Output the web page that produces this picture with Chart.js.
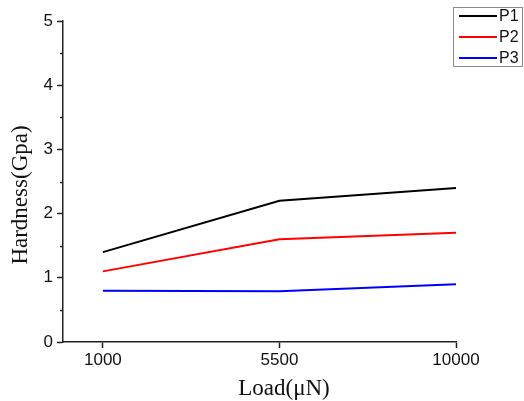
<!DOCTYPE html>
<html>
<head>
<meta charset="utf-8">
<script src="https://cdn.jsdelivr.net/npm/chart.js@4/dist/chart.umd.min.js"></script>
<style>
  html, body { margin: 0; padding: 0; background: #fff; }
  #wrap { width: 524px; height: 401px; }
</style>
</head>
<body>
<div id="wrap"><canvas id="chart" width="524" height="401"></canvas></div>
<script>
    // load values (uN) on the x axis
    var loads = ['1000', '5500', '10000'];
    var seriesNames = ['P1', 'P2', 'P3'];
    var p1 = [1.4, 2.2, 2.4];
    var p2 = [1.1, 1.6, 1.7];
    var p3 = [0.8, 0.79, 0.9];
    var yTicks = [0, 1, 2, 3, 4, 5];
    var yMinorTicks = [0.5, 1.5, 2.5, 3.5, 4.5];
    var xTitle = 'Load(\u03bcN)';
    var yTitle = 'Hardness(Gpa)';

    var axisColor = '#222';
    var serif = '"Liberation Serif", "Times New Roman", serif';
    var sans = '"Liberation Sans", Arial, sans-serif';

    function toPoints(values) {
        return values.map(function (v, i) { return {x: i, y: v}; });
    }

    // short minor ticks on the y axis
    var minorTicks = {
        id: 'minorTicks',
        afterDraw: function (chart) {
            var ctx = chart.ctx;
            var y = chart.scales.y;
            ctx.save();
            ctx.strokeStyle = axisColor;
            ctx.lineWidth = 1.5;
            yMinorTicks.forEach(function (v) {
                var py = Math.round(y.getPixelForValue(v)) + 0.5;
                ctx.beginPath();
                ctx.moveTo(y.right - 3, py);
                ctx.lineTo(y.right, py);
                ctx.stroke();
            });
            ctx.restore();
        }
    };

    // axis titles, placed like in the original figure
    var axisTitles = {
        id: 'axisTitles',
        afterDraw: function (chart) {
            var ctx = chart.ctx;
            ctx.save();
            ctx.fillStyle = '#111';
            ctx.font = '23px ' + serif;
            ctx.textAlign = 'center';
            ctx.textBaseline = 'middle';
            ctx.fillText(xTitle, 284, 389);
            ctx.translate(21, 195);
            ctx.rotate(-Math.PI / 2);
            ctx.fillText(yTitle, 0, 0);
            ctx.restore();
        }
    };

    // boxed legend in the top right corner
    var boxLegend = {
        id: 'boxLegend',
        afterDraw: function (chart) {
            var ctx = chart.ctx;
            ctx.save();
            ctx.strokeStyle = '#8a8a8a';
            ctx.lineWidth = 1;
            ctx.strokeRect(453.5, 7.5, 69, 59);
            ctx.font = '16px ' + sans;
            ctx.textBaseline = 'middle';
            chart.data.datasets.forEach(function (ds, i) {
                var cy = 16 + i * 21;
                ctx.strokeStyle = ds.borderColor;
                ctx.lineWidth = 2;
                ctx.beginPath();
                ctx.moveTo(459, cy);
                ctx.lineTo(497, cy);
                ctx.stroke();
                ctx.fillStyle = '#111';
                ctx.fillText(ds.label, 499, cy + 1);
            });
            ctx.restore();
        }
    };

    var config = {
        type: 'line',
        data: {
            datasets: [
                {label: seriesNames[0], data: toPoints(p1), borderColor: '#000000'},
                {label: seriesNames[1], data: toPoints(p2), borderColor: '#ff0000'},
                {label: seriesNames[2], data: toPoints(p3), borderColor: '#0000ff'}
            ]
        },
        options: {
            responsive: false,
            animation: false,
            layout: {padding: {left: 0, right: 68, top: 21, bottom: 0}},
            elements: {
                line: {borderWidth: 2, tension: 0},
                point: {radius: 0}
            },
            plugins: {
                legend: {display: false},
                tooltip: {enabled: false}
            },
            scales: {
                x: {
                    type: 'linear',
                    min: -0.226,
                    max: 2,
                    afterBuildTicks: function (axis) {
                        axis.ticks = loads.map(function (l, i) { return {value: i}; });
                    },
                    afterFit: function (scale) { scale.height = 59; },
                    ticks: {
                        padding: 2,
                        color: '#111',
                        maxRotation: 0,
                        font: {family: sans, size: 17},
                        callback: function (v) { return loads[v]; }
                    },
                    grid: {drawOnChartArea: false, tickLength: 6, tickColor: axisColor, tickWidth: 1.5},
                    border: {color: axisColor, width: 1.5}
                },
                y: {
                    min: 0,
                    max: 5,
                    afterBuildTicks: function (axis) {
                        axis.ticks = yTicks.map(function (v) { return {value: v}; });
                    },
                    afterFit: function (scale) { scale.width = 63; },
                    ticks: {
                        padding: 4,
                        color: '#111',
                        font: {family: sans, size: 17}
                    },
                    grid: {drawOnChartArea: false, tickLength: 6, tickColor: axisColor, tickWidth: 1.5},
                    border: {color: axisColor, width: 1.5}
                }
            }
        },
        plugins: [minorTicks, axisTitles, boxLegend]
    };

    new Chart(document.getElementById('chart').getContext('2d'), config);
</script>
</body>
</html>
